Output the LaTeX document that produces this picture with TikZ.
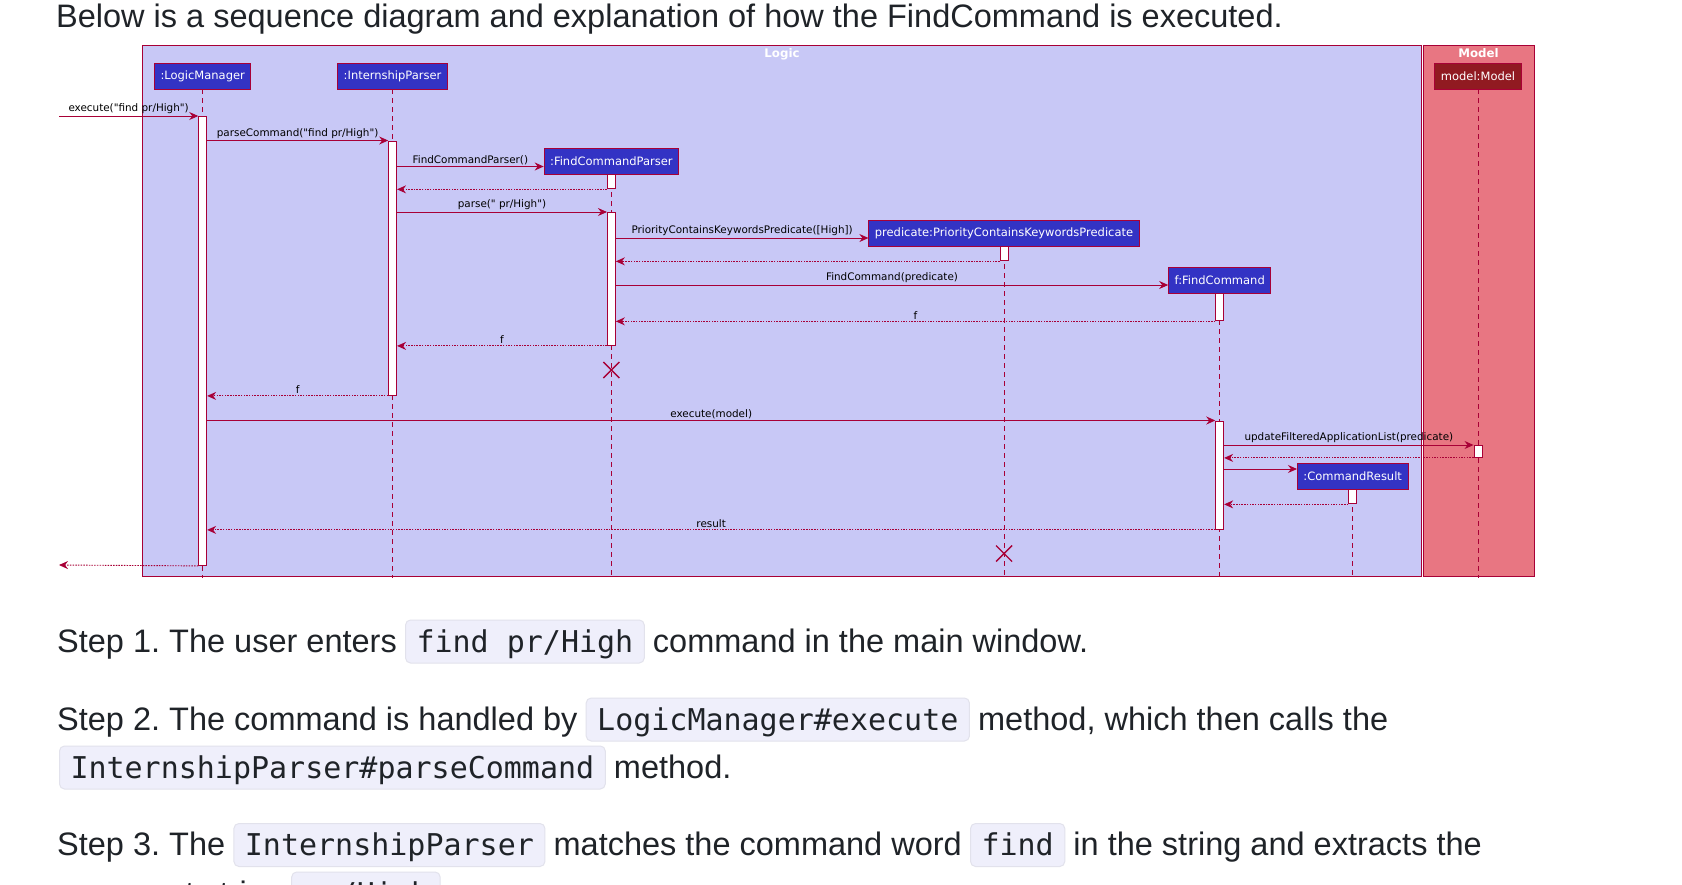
\documentclass[tikz,border=0pt]{standalone}
\usepackage{xcolor}
\usepackage{fontspec}
\setmainfont{Liberation Sans}
\setmonofont{DejaVu Sans Mono}
\newfontfamily\umlfont{DejaVu Sans}
\usetikzlibrary{arrows.meta, positioning, calc}
\frenchspacing

\definecolor{logicfill}{HTML}{C8C8F6}
\definecolor{modelfill}{HTML}{E87682}
\definecolor{crimson}{HTML}{A80036}
\definecolor{partblue}{HTML}{3333C4}
\definecolor{partred}{HTML}{911A21}
\definecolor{codebg}{HTML}{EFEFFB}
\definecolor{codeline}{HTML}{E2E2EC}
\definecolor{ink}{HTML}{1F2328}

\tikzset{
    frame/.style={draw=crimson, line width=1pt},
    part/.style={draw=crimson, line width=0.9pt, fill=partblue, text=white, font=\umlfont\fontsize{11.5}{13}\selectfont, inner xsep=6pt, inner ysep=0pt, minimum height=26pt},
    act/.style={draw=crimson, line width=0.9pt, fill=white, minimum width=8pt, inner sep=0pt, anchor=north},
    lifeline/.style={crimson, line width=0.8pt, dash pattern=on 5pt off 4pt},
    msg/.style={crimson, line width=0.9pt, -{Stealth[length=9pt, width=8pt, inset=3pt]}},
    ret/.style={msg, dash pattern=on 1.5pt off 1.2pt},
    lbl/.style={font=\umlfont\fontsize{10.4}{12}\selectfont, text=black, inner sep=1.5pt, above, midway},
    destroy/.style={crimson, line width=1.4pt},
    title/.style={font=\umlfont\bfseries\fontsize{11.8}{13}\selectfont, text=white, anchor=base},
    body/.style={font=\fontsize{32.5}{38}\selectfont, text=ink, inner sep=0pt, anchor=base west},
    code/.style={font=\ttfamily\fontsize{30}{36}\selectfont, text=ink, fill=codebg, draw=codeline, line width=1pt, rounded corners=5pt, inner xsep=11pt, inner ysep=5pt, text height=27pt, text depth=6pt, anchor=base west},
}

\begin{document}
\begin{tikzpicture}[x=1pt, y=-1pt]
    \fill[white] (0,0) rectangle (1682,884);
    \useasboundingbox (0,0) rectangle (1682,884);

    \node[body] (head) at (56,27) {Below is a sequence diagram and explanation of how the FindCommand is executed.};

    % frames
    \filldraw[frame, fill=logicfill] (142.7,45) rectangle (1421.3,576);
    \filldraw[frame, fill=modelfill] (1423,45) rectangle (1534,576);
    \node[title] (logicT) at (782,57.5) {Logic};
    \node[title] (modelT) at (1478.5,57.5) {Model};

    % participants
    \node[part] (lm) at (202.7,76) {:LogicManager};
    \node[part] (ip) at (392.6,76) {:InternshipParser};
    \node[part, fill=partred] (mdl) at (1478,76) {model:Model};
    \node[part] (fcp) at (611.4,161) {:FindCommandParser};
    \node[part] (pred) at (1004,233) {predicate:PriorityContainsKeywordsPredicate};
    \node[part] (fc) at (1219.7,280) {f:FindCommand};
    \node[part] (cr) at (1352.7,476) {:CommandResult};

    \coordinate (bottom) at (0,578);
    \foreach \p in {lm,ip,fcp,pred,fc,cr,mdl}
        \draw[lifeline] (\p.south) -- (\p.south |- bottom);

    % activations
    \node[act, minimum height=449pt] (lmA) at (202.7,116) {};
    \node[act, minimum height=254.5pt] (ipA) at (392.6,140.5) {};
    \node[act, minimum height=14pt] (fcpA1) at (fcp.south) {};
    \node[act, minimum height=133pt] (fcpA2) at (611.4,212) {};
    \node[act, minimum height=14pt] (predA) at (pred.south) {};
    \node[act, minimum height=27pt] (fcA1) at (fc.south) {};
    \node[act, minimum height=108.5pt] (fcA2) at (1219.7,420.5) {};
    \node[act, minimum height=12pt] (mdlA) at (1478,445) {};
    \node[act, minimum height=14pt] (crA) at (cr.south) {};

    % messages
    \coordinate (gate) at (59,116);
    \coordinate (exit) at (59,565);
    \coordinate (fcpIn) at ([yshift=-5.5pt]fcp.west);
    \coordinate (predIn) at ([yshift=-5pt]pred.west);
    \coordinate (fcIn) at ([yshift=-5pt]fc.west);
    \coordinate (crIn) at ([yshift=7pt]cr.west);

    \draw[msg] (gate) -- node[lbl] {execute("find pr/High")} (lmA.north west);
    \draw[msg] (lmA.east |- ipA.north) -- node[lbl] {parseCommand("find pr/High")} (ipA.north west);
    \draw[msg] (ipA.east |- fcpIn) -- node[lbl] {FindCommandParser()} (fcpIn);
    \draw[ret] (fcpA1.south west) -- (ipA.east |- fcpA1.south);
    \draw[msg] (ipA.east |- fcpA2.north) -- node[lbl] {parse(" pr/High")} (fcpA2.north west);
    \draw[msg] (fcpA2.east |- predIn) -- node[lbl] {PriorityContainsKeywordsPredicate([High])} (predIn);
    \draw[ret] (predA.south west) -- (fcpA2.east |- predA.south);
    \draw[msg] (fcpA2.east |- fcIn) -- node[lbl] {FindCommand(predicate)} (fcIn);
    \draw[ret] (fcA1.south west) -- node[lbl] {f} (fcpA2.east |- fcA1.south);
    \draw[ret] (fcpA2.south west) -- node[lbl] {f} (ipA.east |- fcpA2.south);
    \draw[ret] (ipA.south west) -- node[lbl] {f} (lmA.east |- ipA.south);
    \draw[msg] (lmA.east |- fcA2.north) -- node[lbl] {execute(model)} (fcA2.north west);
    \draw[msg] (fcA2.east |- mdlA.north) -- node[lbl] {updateFilteredApplicationList(predicate)} (mdlA.north west);
    \draw[ret] (mdlA.south west) -- (fcA2.east |- mdlA.south);
    \draw[msg] (fcA2.east |- crIn) -- (crIn);
    \draw[ret] (crA.south west) -- (fcA2.east |- crA.south);
    \draw[ret] (fcA2.south west) -- node[lbl] {result} (lmA.east |- fcA2.south);
    \draw[ret] (lmA.south west) -- (exit);

    % destroyed objects
    \coordinate (fcpX) at (fcp.south |- 0,370);
    \coordinate (predX) at (pred.south |- 0,553.5);
    \foreach \x in {fcpX,predX}
        \draw[destroy] ([shift={(-8pt,8pt)}]\x) -- ([shift={(8pt,-8pt)}]\x)
            ([shift={(-8pt,-8pt)}]\x) -- ([shift={(8pt,8pt)}]\x);

    % explanation text
    \node[body] (s1a) at (57,652) {Step 1. The user enters};
    \node[code] (s1b) at ([xshift=8pt]s1a.base east) {find pr/High};
    \node[body] (s1c) at ([xshift=8pt]s1b.base east) {command in the main window.};

    \node[body] (s2a) at (57,730) {Step 2. The command is handled by};
    \node[code] (s2b) at ([xshift=8pt]s2a.base east) {LogicManager\#execute};
    \node[body] (s2c) at ([xshift=8pt]s2b.base east) {method, which then calls the};
    \node[code] (s2d) at (59,778) {InternshipParser\#parseCommand};
    \node[body] (s2e) at ([xshift=8pt]s2d.base east) {method.};

    \node[body] (s3a) at (57,855.5) {Step 3. The};
    \node[code] (s3b) at ([xshift=8pt]s3a.base east) {InternshipParser};
    \node[body] (s3c) at ([xshift=8pt]s3b.base east) {matches the command word};
    \node[code] (s3d) at ([xshift=8pt]s3c.base east) {find};
    \node[body] (s3e) at ([xshift=8pt]s3d.base east) {in the string and extracts the};
    \node[body] (s4a) at (57,904) {argument string};
    \node[code] (s4b) at ([xshift=8pt]s4a.base east) {pr/High};
\end{tikzpicture}
\end{document}
